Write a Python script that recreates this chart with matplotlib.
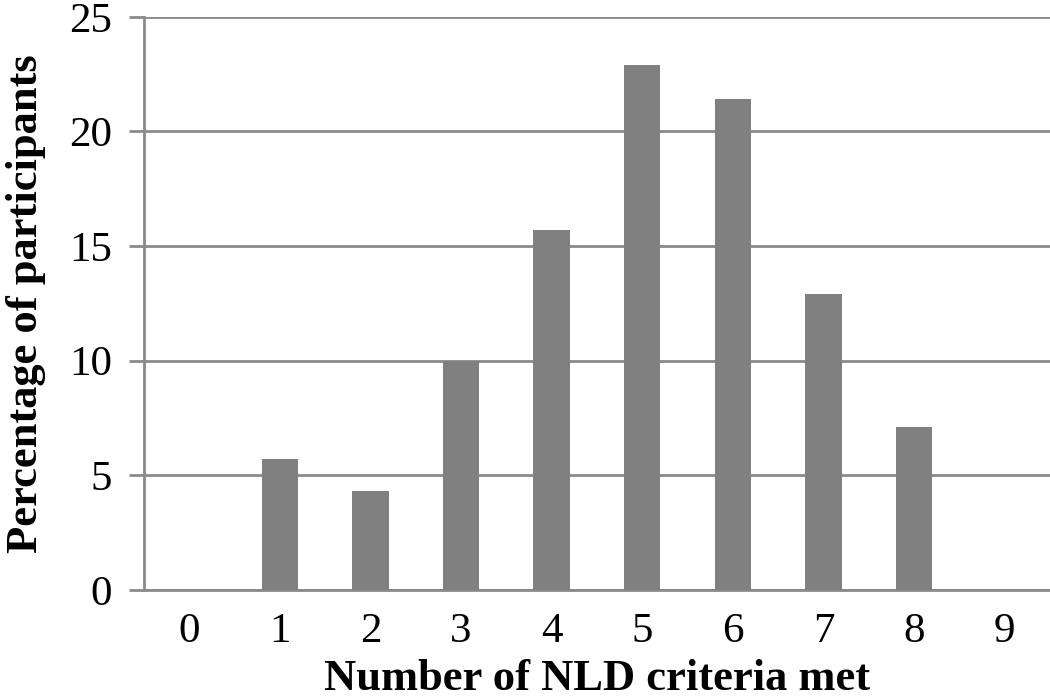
import matplotlib
matplotlib.use("Agg")
import matplotlib.pyplot as plt

# 数据：满足 NLD 标准的数量与参与者百分比
criteria = ["0", "1", "2", "3", "4", "5", "6", "7", "8", "9"]
percent = [0, 5.7, 4.3, 10.0, 15.7, 22.9, 21.4, 12.9, 7.1, 0]
y_ticks = [0, 5, 10, 15, 20, 25]

plt.rcParams["font.family"] = ["Liberation Serif", "DejaVu Serif"]

fig = plt.figure(figsize=(10.5, 6.98), dpi=100)
ax = fig.add_axes([0.137, 0.155, 0.863, 0.821])

grid_c = "#8a8a8a"
x = range(len(criteria))
ax.bar(x, percent, width=0.4, color="#808080", zorder=3)

ax.set_xlim(-0.5, len(criteria) - 0.5)
ax.set_ylim(0, 25)
ax.set_yticks(y_ticks)
ax.set_xticks(list(x))
ax.set_xticklabels(criteria)
ax.yaxis.grid(True, color=grid_c, linewidth=2, zorder=0)
ax.set_axisbelow(True)

for s in ["top", "right"]:
    ax.spines[s].set_visible(False)
for s in ["left", "bottom"]:
    ax.spines[s].set_color(grid_c)
    ax.spines[s].set_linewidth(2)

ax.tick_params(axis="y", length=11, width=2, color=grid_c, labelsize=31, pad=12)
ax.tick_params(axis="x", length=0, labelsize=31, pad=16)

ax.set_xlabel("Number of NLD criteria met", fontsize=32, fontweight="bold", labelpad=6)
ax.set_ylabel("Percentage of participants", fontsize=32, fontweight="bold")
ax.yaxis.set_label_coords(-0.108, 0.5)

fig.savefig("out.png", dpi=100)
